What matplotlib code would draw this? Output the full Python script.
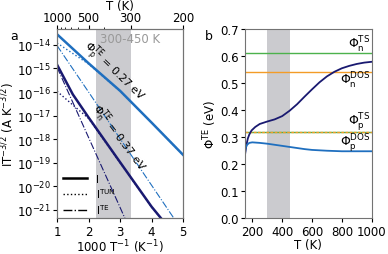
import numpy as np
import matplotlib
matplotlib.use('Agg')
import matplotlib.pyplot as plt
from matplotlib.ticker import FixedLocator, NullLocator, LogFormatterMathtext
from matplotlib.lines import Line2D

# ---- data ----
# panel a: log10 of I*T^-3/2 vs 1000/T
x_p = [1, 2, 3, 4, 5]
p_I = [-13.55, -14.78, -15.95, -17.30, -18.67]
p_TUN = [-13.92, -14.81, -15.96, -17.30, -18.67]
p_TE = [-14.03, -16.00, -17.98, -19.96, -21.94]

x_n = [1, 1.5, 2, 3, 4, 5]
n_I = [-14.84, -16.10, -17.08, -18.98, -20.87, -22.50]
n_TUN = [-15.97, -16.55, -17.12, -19.00, -20.88, -22.50]
x_nte = [1, 2, 3, 4]
n_TE = [-14.95, -17.93, -20.90, -23.90]

# panel b: barrier height vs T
T_n = [150, 160, 170, 180, 195, 220, 250, 300, 350, 400, 450, 500, 550,
       600, 650, 700, 750, 800, 850, 900, 950, 1000]
phi_n = [0.23, 0.27, 0.295, 0.31, 0.325, 0.338, 0.349, 0.358, 0.366, 0.378,
         0.398, 0.422, 0.45, 0.477, 0.503, 0.525, 0.542, 0.555, 0.564,
         0.571, 0.576, 0.579]
T_p = [150, 155, 165, 180, 200, 250, 300, 350, 400, 450, 500, 550, 600,
       700, 800, 900, 1000]
phi_p = [0.235, 0.26, 0.272, 0.279, 0.281, 0.279, 0.276, 0.272, 0.268,
         0.264, 0.26, 0.256, 0.253, 0.25, 0.248, 0.248, 0.248]
phi_n_TS = 0.61
phi_n_DOS = 0.54
phi_p_TS = 0.32
phi_p_DOS = 0.32

T_band = [300, 450]

navy = '#191970'
blue = '#1f6fbf'
green = '#4cb24c'
orange = '#f39c27'
shade = '#cbcbcf'

plt.rcParams['font.size'] = 8.5
plt.rcParams['axes.edgecolor'] = '0.45'

fig = plt.figure(figsize=(3.88, 2.55), dpi=100)
ax1 = fig.add_axes([0.147, 0.14, 0.325, 0.742])
ax2 = fig.add_axes([0.631, 0.14, 0.327, 0.742])

# ---------- panel a ----------
ax1.axvspan(1000 / T_band[1], 1000 / T_band[0], color=shade, lw=0)
ax1.plot(x_p, 10 ** np.array(p_TUN), color=blue, lw=1.0, ls=':')
ax1.plot(x_p, 10 ** np.array(p_TE), color=blue, lw=0.8, ls='-.')
ax1.plot(x_p, 10 ** np.array(p_I), color=blue, lw=1.8)
ax1.plot(x_n, 10 ** np.array(n_TUN), color=navy, lw=1.0, ls=':')
ax1.plot(x_nte, 10 ** np.array(n_TE), color=navy, lw=0.8, ls='-.')
ax1.plot(x_n, 10 ** np.array(n_I), color=navy, lw=1.8)

ax1.set_yscale('log')
ax1.set_xlim(1, 5)
ax1.set_ylim(10 ** -21.36, 10 ** -13.33)
ax1.set_xticks([1, 2, 3, 4, 5])
ax1.yaxis.set_major_locator(FixedLocator([10.0 ** k for k in range(-21, -13)]))
ax1.yaxis.set_major_formatter(LogFormatterMathtext())
ax1.yaxis.set_minor_locator(NullLocator())
ax1.set_xlabel('1000 T$^{-1}$ (K$^{-1}$)', labelpad=0, fontsize=8.5)
ax1.set_ylabel('IT$^{-3/2}$ (A K$^{-3/2}$)', labelpad=0)
ax1.tick_params(length=3, pad=1.5)

ax1.text(2.37, 10 ** -13.72, '300-450 K', color='0.6', fontsize=8.5, va='center')
ax1.text(2.78, 10 ** -15.15, r'$\Phi_{\rm p}^{\rm TE}$ = 0.27 eV', rotation=-44,
         ha='center', va='center', fontsize=8, rotation_mode='anchor')
ax1.text(2.95, 10 ** -17.9, r'$\Phi_{\rm n}^{\rm TE}$ = 0.37 eV', rotation=-53,
         ha='center', va='center', fontsize=8, rotation_mode='anchor')

handles = [Line2D([], [], color='k', lw=1.8),
           Line2D([], [], color='k', lw=1.0, ls=':'),
           Line2D([], [], color='k', lw=1.0, ls='-.')]
ax1.legend(handles, ['I', r'I$^{\rm TUN}$', r'I$^{\rm TE}$'], loc='lower left',
           frameon=False, fontsize=7.5, handlelength=2.3, labelspacing=0.2,
           borderaxespad=0.2, bbox_to_anchor=(0.0, -0.02))

top = ax1.twiny()
top.set_xlim(ax1.get_xlim())
top.xaxis.set_major_locator(FixedLocator([1000 / t for t in [1000, 500, 300, 200]]))
top.set_xticklabels(['1000', '500', '300', '200'])
top.xaxis.set_minor_locator(FixedLocator([1000 / t for t in [900, 800, 700, 600, 400]]))
top.tick_params(length=3, pad=1)
top.tick_params(which='minor', length=1.5)
top.set_xlabel('T (K)', labelpad=1)

# ---------- panel b ----------
ax2.axvspan(T_band[0], T_band[1], color=shade, lw=0)
ax2.axhline(phi_n_TS, color=green, lw=1.0)
ax2.axhline(phi_n_DOS, color=orange, lw=1.0)
ax2.axhline(phi_p_TS, color=green, lw=1.0)
ax2.axhline(phi_p_DOS, color=orange, lw=1.0, ls=(0, (2, 1)))
ax2.plot(T_n, phi_n, color=navy, lw=1.3)
ax2.plot(T_p, phi_p, color=blue, lw=1.3)
ax2.set_xlim(150, 1000)
ax2.set_ylim(0, 0.7)
ax2.set_xticks([200, 400, 600, 800, 1000])
ax2.set_yticks(np.arange(0, 0.71, 0.1))
ax2.set_xlabel('T (K)', labelpad=0)
ax2.set_ylabel(r'$\Phi^{\rm TE}$ (eV)', labelpad=1)
ax2.tick_params(length=3, pad=1.5)

ax2.text(990, 0.645, r'$\Phi_{\rm n}^{\rm TS}$', ha='right', va='center', fontsize=9)
ax2.text(990, 0.51, r'$\Phi_{\rm n}^{\rm DOS}$', ha='right', va='center', fontsize=9)
ax2.text(990, 0.36, r'$\Phi_{\rm p}^{\rm TS}$', ha='right', va='center', fontsize=9)
ax2.text(990, 0.282, r'$\Phi_{\rm p}^{\rm DOS}$', ha='right', va='center', fontsize=9)

fig.text(0.026, 0.855, 'a', fontsize=9, ha='left', va='center')
fig.text(0.528, 0.855, 'b', fontsize=9, ha='left', va='center')

fig.savefig('out.png', dpi=100)
